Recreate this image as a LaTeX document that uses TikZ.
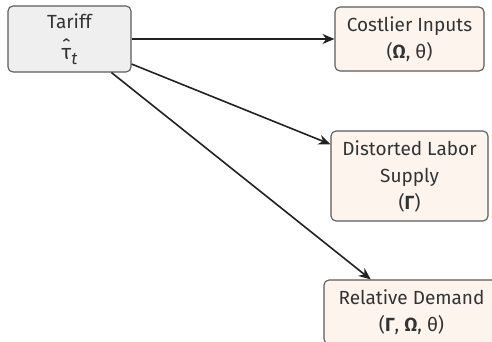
\documentclass[tikz,border=0pt]{standalone}
\usepackage{fontspec}
\setmainfont{Fira Sans}
\usetikzlibrary{arrows.meta}
\definecolor{txt}{HTML}{333333}
\definecolor{edge}{HTML}{5A5A5A}
\definecolor{grayfill}{HTML}{EFEFEF}
\definecolor{peach}{HTML}{FDF4EE}
\definecolor{arrowc}{HTML}{222222}
\tikzset{
  box/.style={draw=edge, line width=1.1pt, rounded corners=5pt, align=center,
    text=txt, font=\fontsize{19}{27}\selectfont, inner sep=0pt},
  src/.style={box, fill=grayfill},
  effect/.style={box, fill=peach},
  link/.style={draw=arrowc, line width=1.6pt, -{Stealth[length=12pt,width=10pt]}},
}
% tau with a circumflex set above it, and an italic subscript t
\newcommand{\tauhat}{{\fontsize{21}{21}\selectfont\ooalign{τ\cr\hidewidth\raisebox{0.16em}{ˆ}\hidewidth\cr}}\raisebox{-0.28em}{\itshape\fontsize{17}{17}\selectfont t}}
\begin{document}
\begin{tikzpicture}[x=1pt,y=-1pt]
\useasboundingbox (0,0) rectangle (492,342);
\clip (0,0) rectangle (492,342);
\fill[white] (0,0) rectangle (492,342);
\node[src, minimum width=123pt, minimum height=66pt] (tariff) at (69.5,39) {Tariff\\[4pt]\tauhat};
\node[effect, minimum width=149pt, minimum height=64pt] (inputs) at (409.5,39) {Costlier Inputs\\(\textbf{Ω}, θ)};
\node[effect, minimum width=157pt, minimum height=90pt] (labor) at (409.5,176) {Distorted Labor\\Supply\\(\textbf{Γ})};
\node[effect, minimum width=175pt, minimum height=64pt] (demand) at (411.5,312) {Relative Demand\\(\textbf{Γ}, \textbf{Ω}, θ)};
\draw[link] (tariff) -- (inputs);
\draw[link] (tariff) -- (labor);
\draw[link] (tariff) -- (demand);
\end{tikzpicture}
\end{document}
